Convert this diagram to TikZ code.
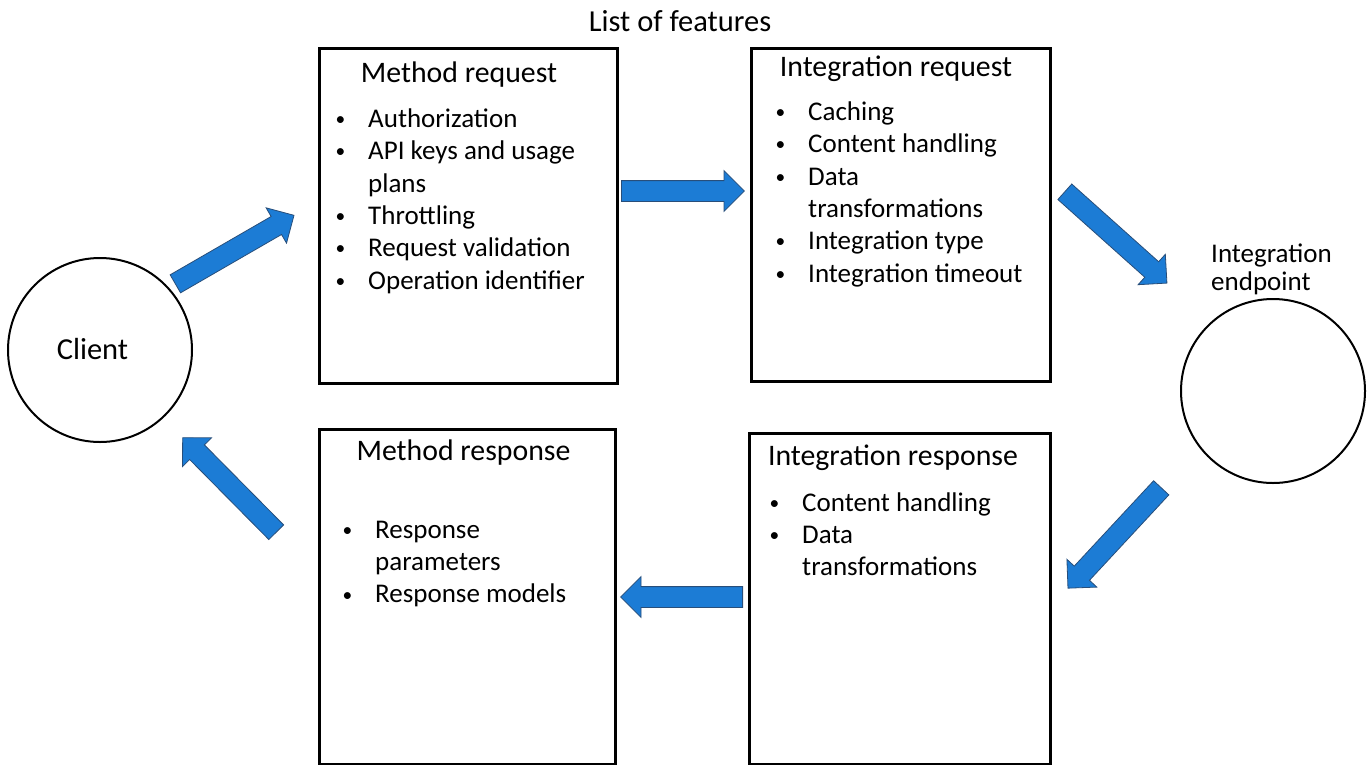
\documentclass[tikz,border=0pt]{standalone}
\usepackage{fontspec}
\setmainfont{Carlito}
\usetikzlibrary{shapes.arrows}
\definecolor{arrowblue}{RGB}{28,124,213}
\definecolor{arrowedge}{RGB}{40,78,122}
% small bullet hung to the left of an item's text
\newcommand\bul{\llap{\raisebox{1.8pt}{\scalebox{0.72}{\textbullet}}\hspace{23pt}}}
\tikzset{
  box/.style={draw=black, line width=2.6pt, inner sep=0pt, anchor=north west},
  endcircle/.style={draw=black, line width=2pt, circle, minimum size=184pt, inner sep=0pt},
  ttl/.style={font=\fontsize{29.8}{32}\selectfont, inner sep=0pt, anchor=base},
  itm/.style={font=\fontsize{27}{32}\selectfont, inner sep=0pt, anchor=base west},
  lbl/.style={font=\fontsize{27}{32}\selectfont, inner sep=0pt},
  blockarrow/.style={single arrow, fill=arrowblue, draw=arrowedge, line width=0.8pt,
    minimum width=40pt, single arrow head extend=10pt, single arrow tip angle=90,
    inner xsep=0pt, inner ysep=10pt, anchor=tail},
}
\begin{document}
\begin{tikzpicture}[x=1pt, y=-1pt]
\useasboundingbox (0,0) rectangle (1367,764);

% heading
\node[ttl, font=\fontsize{30.5}{32}\selectfont] (features) at (680,31) {List of features};

% end points of the flow
\node[endcircle] (client) at (100,350) {};
\node[lbl, font=\fontsize{30.5}{32}\selectfont, anchor=base] (clientlbl) at (92.5,359) {Client};
\node[endcircle] (endpoint) at (1273,391) {};
\node[lbl, anchor=base west] (eplbl1) at (1211,262) {Integration};
\node[lbl, anchor=base west] (eplbl2) at (1211,290) {endpoint};

% four stages
\node[box, minimum width=298pt, minimum height=335pt] (mrq) at (318,47) {};
\node[box, minimum width=299pt, minimum height=333pt] (irq) at (750,47) {};
\node[box, minimum width=296pt, minimum height=335pt] (mrs) at (318,428) {};
\node[box, minimum width=301pt, minimum height=331pt] (irs) at (748,432) {};

% Method request
\node[ttl] (mrqt) at (459,82) {Method request};
\node[itm] (mrq1) at (368,127) {\bul Authorization};
\node[itm] (mrq2) at (368,159.5) {\bul API keys and usage};
\node[itm] (mrq3) at (368,192) {plans};
\node[itm] (mrq4) at (368,224) {\bul Throttling};
\node[itm] (mrq5) at (368,256.5) {\bul Request validation};
\node[itm] (mrq6) at (368,289) {\bul Operation identifier};

% Integration request
\node[ttl] (irqt) at (896,76) {Integration request};
\node[itm] (irq1) at (808,120) {\bul Caching};
\node[itm] (irq2) at (808,152.5) {\bul Content handling};
\node[itm] (irq3) at (808,185) {\bul Data};
\node[itm] (irq4) at (808,217) {transformations};
\node[itm] (irq5) at (808,249.5) {\bul Integration type};
\node[itm] (irq6) at (808,282) {\bul Integration timeout};

% Method response
\node[ttl] (mrst) at (463.5,460) {Method response};
\node[itm] (mrs1) at (375,538) {\bul Response};
\node[itm] (mrs2) at (375,570.4) {parameters};
\node[itm] (mrs3) at (375,602.8) {\bul Response models};

% Integration response
\node[ttl] (irst) at (893,465) {Integration response};
\node[itm] (irs1) at (802,511) {\bul Content handling};
\node[itm] (irs2) at (802,543) {\bul Data};
\node[itm] (irs3) at (802,575) {transformations};

% flow arrows, each placed by its tail
\node[blockarrow, minimum height=137pt, rotate=30] (a1) at (175,284) {};
\node[blockarrow, minimum height=123pt] (a2) at (621,191) {};
\node[blockarrow, minimum height=137pt, rotate=-41.8] (a3) at (1064.5,191.5) {};
\node[blockarrow, minimum height=137pt, rotate=227.1] (a4) at (1161.5,487.5) {};
\node[blockarrow, minimum height=122pt, rotate=180] (a5) at (743,597) {};
\node[blockarrow, minimum height=133pt, rotate=134.7] (a6) at (276.5,532.5) {};
\end{tikzpicture}
\end{document}
